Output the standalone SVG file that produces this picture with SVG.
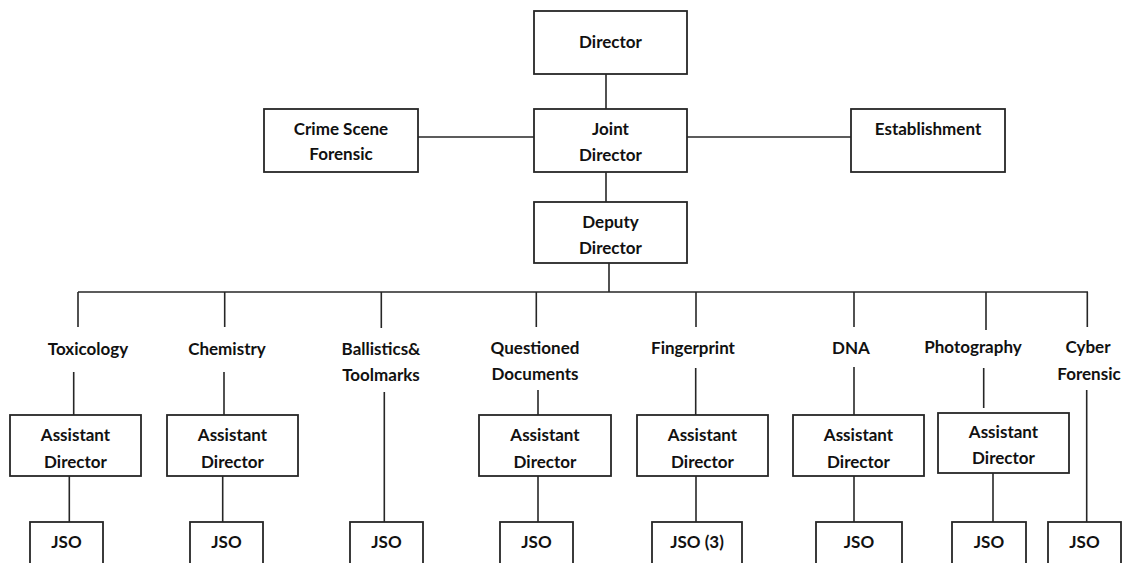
<svg xmlns="http://www.w3.org/2000/svg" width="1125" height="563" viewBox="0 0 1125 563">
<style>
  .box { fill: #ffffff; stroke: #262626; stroke-width: 1.8; }
  .ln { stroke: #262626; stroke-width: 1.6; fill: none; }
  text { font-family: Lato, "Open Sans", sans-serif; font-weight: 700; font-size: 17px; fill: #111111; text-anchor: middle; }
</style>
<rect width="1125" height="563" fill="#ffffff"/>
<g id="connectors">
  <line class="ln" x1="606" y1="74" x2="606" y2="109"/>
  <line class="ln" x1="418" y1="137" x2="534" y2="137"/>
  <line class="ln" x1="687" y1="137" x2="851" y2="137"/>
  <line class="ln" x1="606" y1="172" x2="606" y2="202"/>
  <line class="ln" x1="609" y1="263" x2="609" y2="292"/>
  <line class="ln" x1="78" y1="292" x2="1088" y2="292"/>
  <line class="ln" x1="78" y1="292" x2="78" y2="327"/>
  <line class="ln" x1="224.7" y1="292" x2="224.7" y2="327"/>
  <line class="ln" x1="381.3" y1="292" x2="381.3" y2="328"/>
  <line class="ln" x1="536.3" y1="292" x2="536.3" y2="327"/>
  <line class="ln" x1="696" y1="292" x2="696" y2="327"/>
  <line class="ln" x1="854" y1="292" x2="854" y2="327"/>
  <line class="ln" x1="986" y1="292" x2="986" y2="330"/>
  <line class="ln" x1="1087.3" y1="292" x2="1087.3" y2="327"/>
  <line class="ln" x1="73.7" y1="372" x2="73.7" y2="415"/>
  <line class="ln" x1="224" y1="372" x2="224" y2="415"/>
  <line class="ln" x1="384.3" y1="392" x2="384.3" y2="522"/>
  <line class="ln" x1="538" y1="390" x2="538" y2="415"/>
  <line class="ln" x1="695.7" y1="368" x2="695.7" y2="415"/>
  <line class="ln" x1="854" y1="367" x2="854" y2="415"/>
  <line class="ln" x1="983.7" y1="368" x2="983.7" y2="408"/>
  <line class="ln" x1="1086.7" y1="390" x2="1086.7" y2="522"/>
  <line class="ln" x1="69.3" y1="476" x2="69.3" y2="522"/>
  <line class="ln" x1="222.7" y1="476" x2="222.7" y2="522"/>
  <line class="ln" x1="538" y1="476" x2="538" y2="522"/>
  <line class="ln" x1="696" y1="476" x2="696" y2="522"/>
  <line class="ln" x1="854" y1="476" x2="854" y2="522"/>
  <line class="ln" x1="993" y1="473" x2="993" y2="522"/>
</g>
<g id="director"><rect class="box" x="534" y="11" width="153" height="63"/><text x="610.5" y="48">Director</text></g>
<g id="joint-director"><rect class="box" x="534" y="109" width="153" height="63"/><text x="610.5" y="135">Joint</text><text x="610.5" y="161">Director</text></g>
<g id="crime-scene"><rect class="box" x="264" y="109" width="154" height="63"/><text x="341" y="135">Crime Scene</text><text x="341" y="160">Forensic</text></g>
<g id="establishment"><rect class="box" x="851" y="109" width="154" height="63"/><text x="928" y="135">Establishment</text></g>
<g id="deputy-director"><rect class="box" x="534" y="202" width="153" height="61"/><text x="610.5" y="228">Deputy</text><text x="610.5" y="254">Director</text></g>
<g id="toxicology"><text x="88" y="355">Toxicology</text></g>
<g id="chemistry"><text x="227" y="355">Chemistry</text></g>
<g id="ballistics"><text x="381" y="355">Ballistics&amp;</text><text x="381" y="381">Toolmarks</text></g>
<g id="questioned"><text x="535" y="354">Questioned</text><text x="535" y="380">Documents</text></g>
<g id="fingerprint"><text x="693" y="354">Fingerprint</text></g>
<g id="dna"><text x="851" y="354">DNA</text></g>
<g id="photography"><text x="973" y="353">Photography</text></g>
<g id="cyber"><text x="1088" y="353">Cyber</text><text x="1089" y="380">Forensic</text></g>
<g id="ad-toxicology"><rect class="box" x="10" y="415" width="131" height="61"/><text x="75.5" y="441">Assistant</text><text x="75.5" y="467.5">Director</text></g>
<g id="ad-chemistry"><rect class="box" x="167" y="415" width="131" height="61"/><text x="232.5" y="441">Assistant</text><text x="232.5" y="467.5">Director</text></g>
<g id="ad-questioned"><rect class="box" x="479" y="415" width="132" height="61"/><text x="545" y="441">Assistant</text><text x="545" y="467.5">Director</text></g>
<g id="ad-fingerprint"><rect class="box" x="637" y="415" width="131" height="61"/><text x="702.5" y="441">Assistant</text><text x="702.5" y="467.5">Director</text></g>
<g id="ad-dna"><rect class="box" x="793" y="415" width="131" height="61"/><text x="858.5" y="441">Assistant</text><text x="858.5" y="467.5">Director</text></g>
<g id="ad-photography"><rect class="box" x="938" y="413" width="131" height="60"/><text x="1003.5" y="438">Assistant</text><text x="1003.5" y="464">Director</text></g>
<g id="jso-toxicology"><rect class="box" x="30" y="522" width="73" height="60"/><text x="66.5" y="547.5">JSO</text></g>
<g id="jso-chemistry"><rect class="box" x="190" y="522" width="73" height="60"/><text x="226.5" y="547.5">JSO</text></g>
<g id="jso-ballistics"><rect class="box" x="350" y="522" width="73" height="60"/><text x="386.5" y="547.5">JSO</text></g>
<g id="jso-questioned"><rect class="box" x="500" y="522" width="73" height="60"/><text x="536.5" y="547.5">JSO</text></g>
<g id="jso-fingerprint"><rect class="box" x="652" y="522" width="90" height="60"/><text x="697" y="547.5">JSO (3)</text></g>
<g id="jso-dna"><rect class="box" x="816" y="522" width="86" height="60"/><text x="859" y="547.5">JSO</text></g>
<g id="jso-photography"><rect class="box" x="952" y="522" width="74" height="60"/><text x="989" y="547.5">JSO</text></g>
<g id="jso-cyber"><rect class="box" x="1048" y="522" width="73" height="60"/><text x="1084.5" y="547.5">JSO</text></g>
</svg>
